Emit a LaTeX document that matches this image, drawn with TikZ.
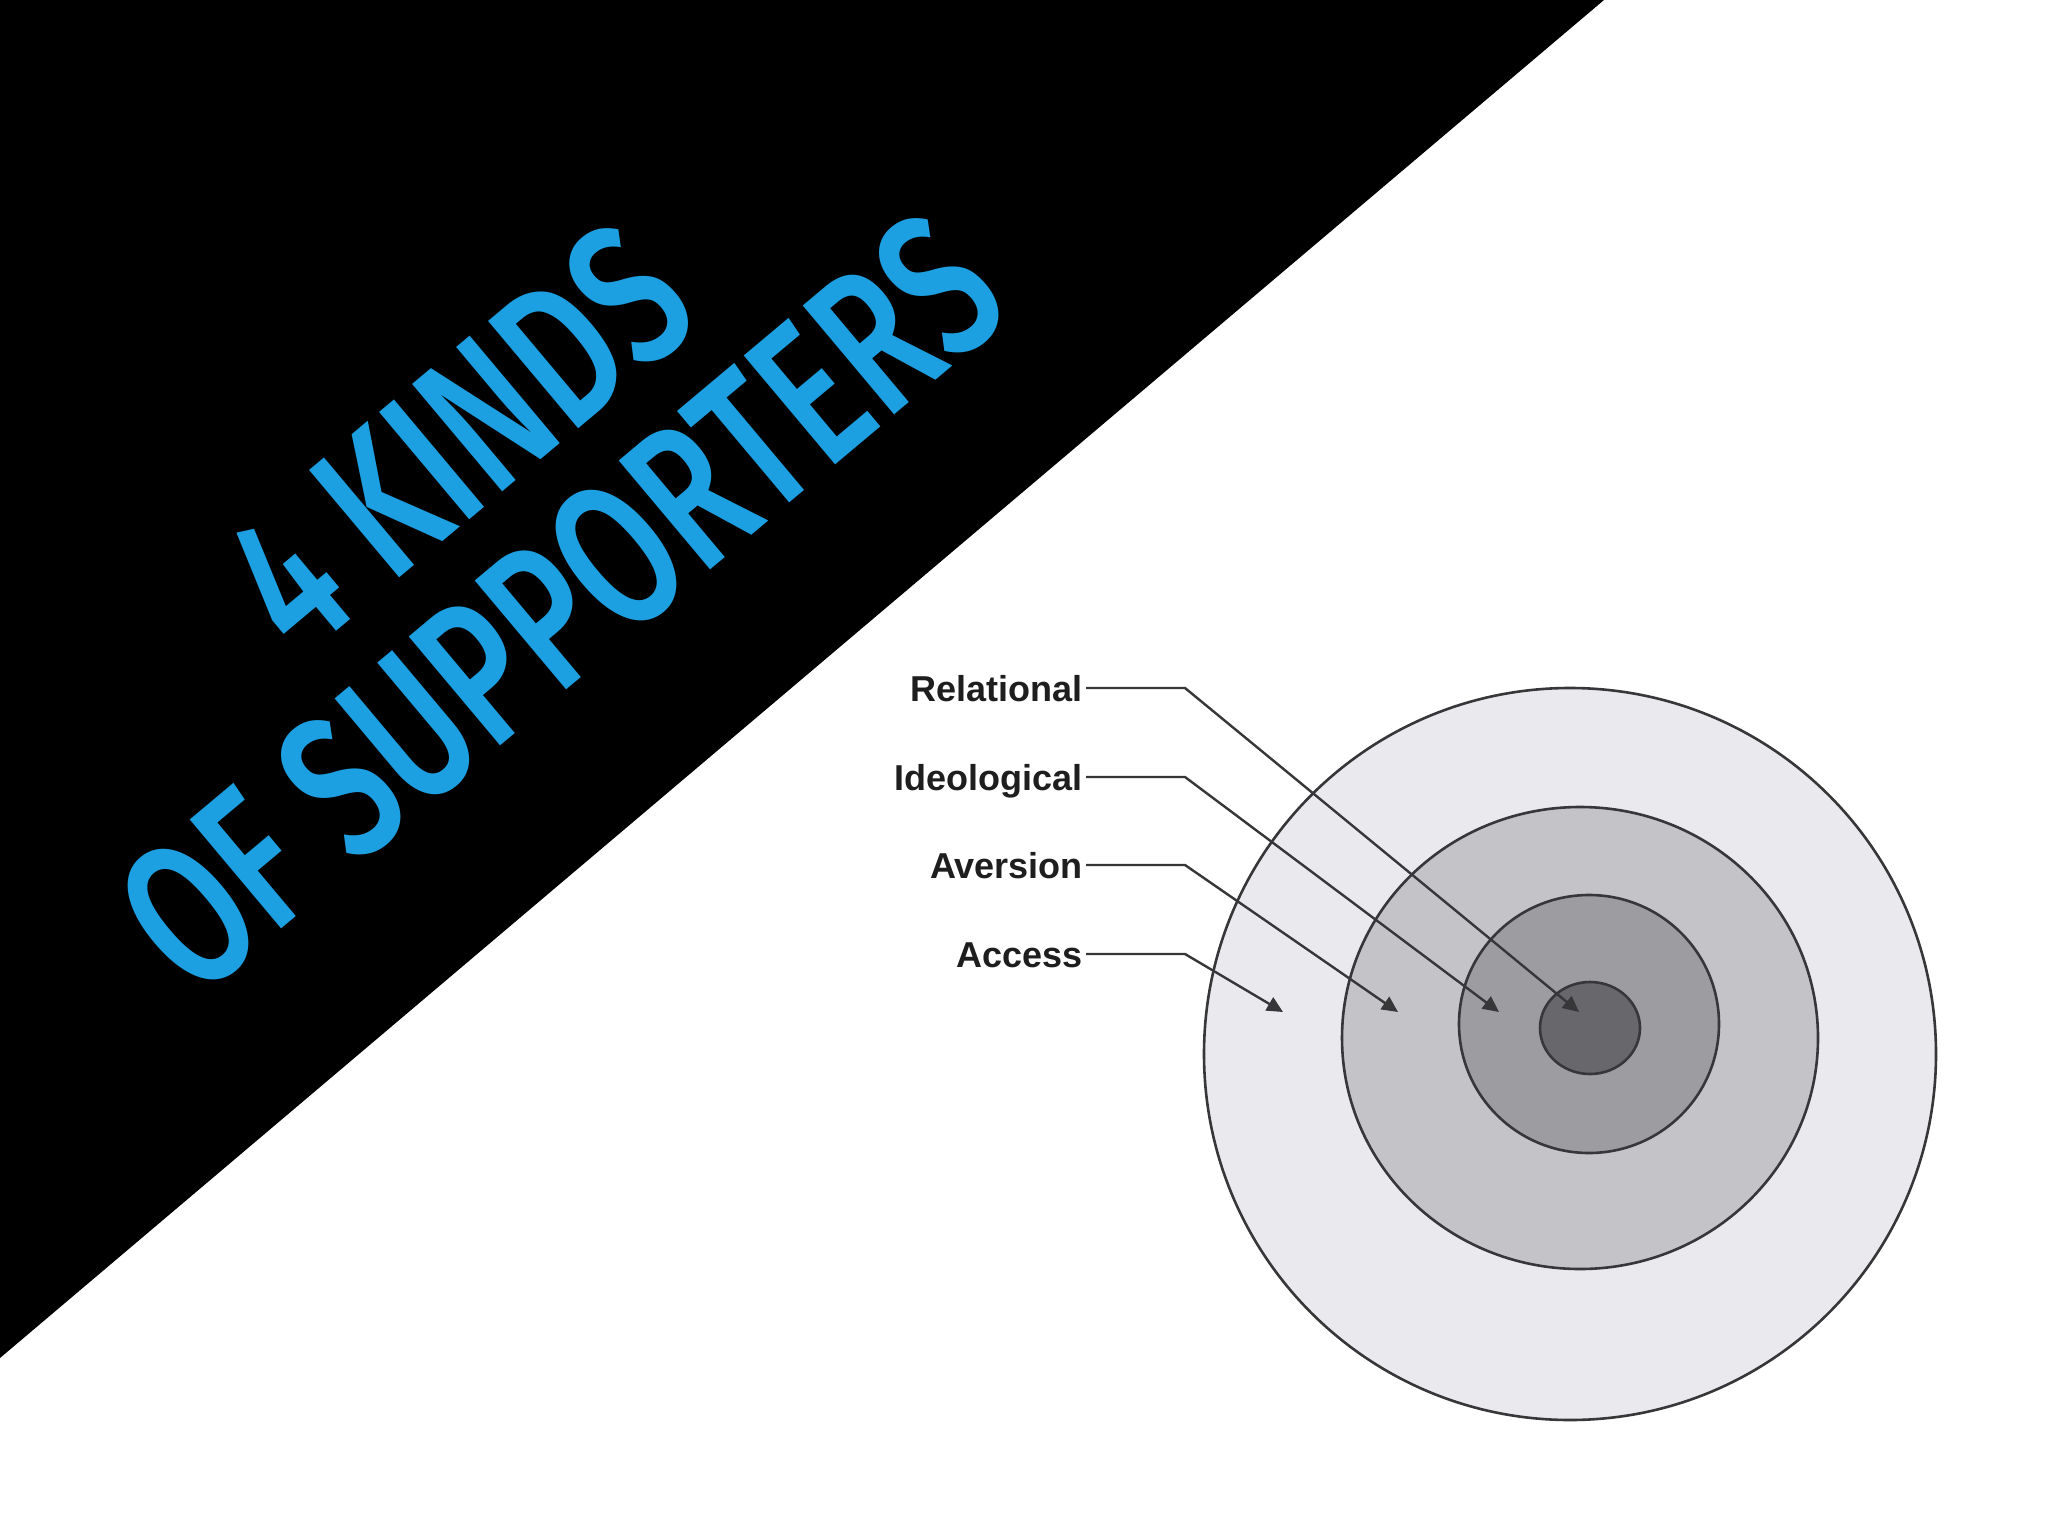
\documentclass[tikz,border=0pt]{standalone}
\usepackage{fontspec}
\usepackage{graphicx}
\setmainfont{Liberation Sans}
\newfontfamily\titlefont{Fira Sans Medium}
\usetikzlibrary{arrows.meta}
\definecolor{titleblue}{RGB}{28,160,226}
\definecolor{ringA}{RGB}{234,233,237}
\definecolor{ringB}{RGB}{196,195,199}
\definecolor{ringC}{RGB}{157,156,160}
\definecolor{ringD}{RGB}{104,103,107}
\definecolor{ringline}{RGB}{55,55,58}
\definecolor{labtext}{RGB}{30,30,30}
\begin{document}
\begin{tikzpicture}[x=1pt,y=-1pt,
  ring/.style={draw=ringline,line width=2.6pt},
  titletext/.style={rotate=40,inner sep=0pt,text=titleblue},
  lab/.style={anchor=east,inner sep=3pt,text=labtext,text height=27pt,text depth=0pt,
    font=\fontsize{36}{40}\selectfont\bfseries},
  conn/.style={draw=ringline,line width=2.4pt,-{Triangle[length=16pt,width=15pt]}}]
\useasboundingbox (0,0) rectangle (2048,1536);
\fill[white] (0,0) rectangle (2048,1536);
\fill[black] (0,0) -- (1604,0) -- (0,1358) -- cycle;
\node[titletext] (t1) at (458,438) {\resizebox{528pt}{143pt}{\titlefont 4 KINDS}};
\node[titletext] (t2) at (560,603) {\resizebox{1070pt}{145pt}{\titlefont OF SUPPORTERS}};
% target rings
\filldraw[ring,fill=ringA] (1570,1054) ellipse [x radius=366pt,y radius=366pt];
\filldraw[ring,fill=ringB] (1580,1038) ellipse [x radius=238pt,y radius=231pt];
\filldraw[ring,fill=ringC] (1589,1024) ellipse [x radius=130pt,y radius=129pt];
\filldraw[ring,fill=ringD] (1590,1028) ellipse [x radius=50pt,y radius=46pt];
% labels
\node[lab] (rel) at (1086,688) {Relational};
\node[lab] (ide) at (1086,777) {Ideological};
\node[lab] (ave) at (1086,865) {Aversion};
\node[lab] (acc) at (1086,954) {Access};
\coordinate (relb) at (1185,688);
\coordinate (ideb) at (1185,777);
\coordinate (aveb) at (1185,865);
\coordinate (accb) at (1185,954);
\coordinate (relt) at (1579,1012);
\coordinate (idet) at (1499,1012);
\coordinate (avet) at (1398,1012);
\coordinate (acct) at (1283,1012);
\draw[conn] (rel) -- (relb) -- (relt);
\draw[conn] (ide) -- (ideb) -- (idet);
\draw[conn] (ave) -- (aveb) -- (avet);
\draw[conn] (acc) -- (accb) -- (acct);
\end{tikzpicture}
\end{document}
